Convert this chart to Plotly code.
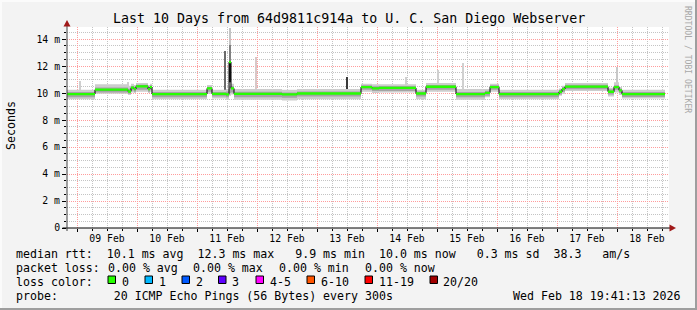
import plotly.graph_objects as go

# ---------------- data ----------------
times = [
    "2026-02-08 20:00", "2026-02-09 07:12", "2026-02-09 20:24", "2026-02-09 21:36",
    "2026-02-09 22:48", "2026-02-09 23:36", "2026-02-10 04:24", "2026-02-10 05:12",
    "2026-02-10 06:00", "2026-02-11 04:00", "2026-02-11 06:00", "2026-02-11 11:36",
    "2026-02-11 12:48", "2026-02-11 13:36", "2026-02-11 14:48", "2026-02-12 10:00",
    "2026-02-12 16:00", "2026-02-13 17:36", "2026-02-13 22:00", "2026-02-14 00:48",
    "2026-02-14 15:36", "2026-02-14 19:36", "2026-02-15 07:36", "2026-02-15 19:12",
    "2026-02-15 21:12", "2026-02-16 00:48", "2026-02-17 00:48", "2026-02-17 02:00",
    "2026-02-17 03:12", "2026-02-17 20:24", "2026-02-17 22:48", "2026-02-18 00:48",
    "2026-02-18 02:00", "2026-02-18 19:12",
]
median_ms = [
    9.93, 10.25, 10.12, 10.40, 10.30, 10.50, 10.30, 10.45,
    9.93, 10.35, 9.95, 9.90, 12.30, 10.35, 9.95, 9.90,
    9.97, 10.45, 10.35, 10.38, 9.97, 10.47, 9.93, 10.02,
    10.45, 9.92, 10.10, 10.30, 10.48, 10.10, 10.45, 10.20,
    9.93, 9.93,
]
smoke_outer_lo = [
    9.55, 9.95, 9.85, 10.05, 10.00, 10.10, 10.00, 10.10,
    9.55, 9.95, 9.60, 9.50, 9.80, 9.90, 9.50, 9.45,
    9.55, 10.10, 10.00, 10.05, 9.55, 10.10, 9.50, 9.70,
    10.10, 9.55, 9.80, 9.95, 10.15, 9.75, 10.05, 9.85,
    9.60, 9.60,
]
smoke_outer_hi = [
    10.25, 10.65, 10.55, 10.70, 10.60, 10.75, 10.60, 10.70,
    10.25, 10.60, 10.25, 10.30, 10.80, 10.70, 10.30, 10.25,
    10.30, 10.70, 10.65, 10.65, 10.25, 10.75, 10.30, 10.30,
    10.70, 10.25, 10.35, 10.55, 10.75, 10.40, 10.80, 10.45,
    10.25, 10.25,
]
smoke_inner_lo = [
    9.70, 10.05, 9.95, 10.20, 10.10, 10.25, 10.10, 10.25,
    9.70, 10.10, 9.75, 9.70, 10.00, 10.05, 9.70, 9.65,
    9.75, 10.25, 10.15, 10.15, 9.75, 10.25, 9.70, 9.80,
    10.25, 9.70, 9.90, 10.10, 10.28, 9.90, 10.25, 10.00,
    9.72, 9.72,
]
smoke_inner_hi = [
    10.08, 10.42, 10.32, 10.52, 10.45, 10.62, 10.45, 10.58,
    10.08, 10.48, 10.08, 10.12, 10.50, 10.52, 10.10, 10.05,
    10.12, 10.58, 10.50, 10.52, 10.12, 10.60, 10.08, 10.18,
    10.58, 10.08, 10.25, 10.45, 10.62, 10.28, 10.58, 10.35,
    10.08, 10.08,
]
spike_times = ["2026-02-09 01:12", "2026-02-09 20:24", "2026-02-11 11:24",
               "2026-02-11 13:12", "2026-02-11 13:12", "2026-02-11 13:12",
               "2026-02-11 23:36", "2026-02-13 12:00", "2026-02-14 11:36",
               "2026-02-15 00:24", "2026-02-15 10:24", "2026-02-18 00:00"]
spike_low = [10.2, 10.3, 10.1, 12.4, 12.4, 10.0, 10.2, 10.0, 10.5, 10.3, 10.1, 10.6]
spike_high = [10.9, 10.8, 13.1, 14.8, 13.6, 12.4, 12.7, 11.2, 11.2, 11.7, 12.2, 11.95]
spike_color = ["#cfcfcf", "#cfcfcf", "#6a6a6a", "#c4c4c4", "#808080", "#1e1e1e",
               "#d8c8c8", "#3a3a3a", "#d0d0d0", "#d0d0d0", "#d0d0d0", "#c8c8c8"]

y_tickvals = [0, 2, 4, 6, 8, 10, 12, 14]
y_ticktext = ["0", "2 m", "4 m", "6 m", "8 m", "10 m", "12 m", "14 m"]

loss_labels = ["0", "1", "2", "3", "4-5", "6-10", "11-19", "20/20"]
loss_colors = ["#26ff00", "#00b8ff", "#0059ff", "#5e00ff", "#ff00ff",
               "#ff5500", "#ff0000", "#a10000"]

title_text = "Last 10 Days from 64d9811c914a to U. C. San Diego Webserver"
row1 = "median rtt:  10.1 ms avg  12.3 ms max   9.9 ms min  10.0 ms now   0.3 ms sd  38.3   am/s"
row2_parts = ["packet loss:", "0.00 % avg", "0.00 % max", "0.00 % min", "0.00 % now"]
row3_head = "loss color:"
row4 = "probe:        20 ICMP Echo Pings (56 Bytes) every 300s"
stamp = "Wed Feb 18 19:41:13 2026"

# ---------------- layout geometry ----------------
W, H = 697, 310
L, R, T, B = 67, 28, 27, 82
PW, PH = W - L - R, H - T - B
MONO = "DejaVu Sans Mono"


def px(x):
    return (x - L) / PW


def py(y):
    return (H - B - y) / PH


fig = go.Figure()

# smoke
fig.add_trace(go.Scatter(x=times, y=smoke_outer_lo, mode="lines",
                         line=dict(width=0, shape="hv"), hoverinfo="skip"))
fig.add_trace(go.Scatter(x=times, y=smoke_outer_hi, mode="lines",
                         line=dict(width=0, shape="hv"), fill="tonexty",
                         fillcolor="#cdcdcd", hoverinfo="skip"))
fig.add_trace(go.Scatter(x=times, y=smoke_inner_lo, mode="lines",
                         line=dict(width=0, shape="hv"), hoverinfo="skip"))
fig.add_trace(go.Scatter(x=times, y=smoke_inner_hi, mode="lines",
                         line=dict(width=0, shape="hv"), fill="tonexty",
                         fillcolor="#a4a4a4", hoverinfo="skip"))
# spikes
fig.add_trace(go.Bar(x=spike_times,
                     y=[h - l for h, l in zip(spike_high, spike_low)],
                     base=spike_low, width=40 * 60 * 1000,
                     marker=dict(color=spike_color, line=dict(width=0)),
                     hoverinfo="skip"))
# median line (black) + loss-colour band
fig.add_trace(go.Scatter(x=times, y=median_ms, mode="lines",
                         line=dict(color="black", width=1, shape="hv")))
band = 0.085
fig.add_trace(go.Scatter(x=times, y=[m - band for m in median_ms], mode="lines",
                         line=dict(width=0, shape="hv"), hoverinfo="skip"))
fig.add_trace(go.Scatter(x=times, y=[m + band for m in median_ms], mode="lines",
                         line=dict(width=0, shape="hv"), fill="tonexty",
                         fillcolor=loss_colors[0], hoverinfo="skip"))

grid_major = "#ff9c9c"
grid_minor = "#c4c4c4"

fig.update_layout(
    width=W, height=H, margin=dict(l=L, r=R, t=T, b=B, pad=0),
    paper_bgcolor="#f3f3f3", plot_bgcolor="#ffffff",
    showlegend=False, barmode="overlay", bargap=0,
    font=dict(family=MONO, color="black"),
    xaxis=dict(
        type="date", range=["2026-02-08 20:00", "2026-02-18 20:48"],
        tick0="2026-02-09", dtick=86400000, tickformat="%d %b",
        ticklabelmode="period", showgrid=True, gridcolor=grid_major,
        griddash="1px,1px", gridwidth=1, zeroline=False, showline=False,
        ticks="outside", ticklen=3, tickcolor="black", ticklabelstandoff=-2,
        tickfont=dict(family=MONO, size=9.8, color="black"),
        minor=dict(dtick=21600000, showgrid=True, gridcolor=grid_minor,
                   griddash="1px,1px", ticks="outside", ticklen=2,
                   tickcolor="black"),
        fixedrange=True,
    ),
    yaxis=dict(
        range=[0, 14.9], tickvals=y_tickvals, ticktext=y_ticktext,
        showgrid=True, gridcolor=grid_major, griddash="1px,1px",
        zeroline=False, showline=False, ticks="outside", ticklen=4,
        tickcolor="black",
        tickfont=dict(family=MONO, size=9.8, color="black"),
        minor=dict(dtick=0.5, showgrid=True, gridcolor=grid_minor,
                   griddash="1px,1px", ticks="outside", ticklen=2,
                   tickcolor="black"),
        fixedrange=True,
    ),
)

shapes = []
# frame
shapes.append(dict(type="rect", xref="paper", yref="paper", x0=px(0), x1=px(697),
                   y0=py(0), y1=py(2), fillcolor="#fbfbfb", line=dict(width=0), layer="below"))
shapes.append(dict(type="rect", xref="paper", yref="paper", x0=px(0), x1=px(2),
                   y0=py(0), y1=py(310), fillcolor="#fbfbfb", line=dict(width=0), layer="below"))
shapes.append(dict(type="rect", xref="paper", yref="paper", x0=px(695), x1=px(697),
                   y0=py(0), y1=py(310), fillcolor="#9e9e9e", line=dict(width=0)))
shapes.append(dict(type="rect", xref="paper", yref="paper", x0=px(0), x1=px(697),
                   y0=py(308), y1=py(310), fillcolor="#9e9e9e", line=dict(width=0)))
# axes
shapes.append(dict(type="line", xref="paper", yref="paper", x0=px(62.5), x1=px(670),
                   y0=0, y1=0, line=dict(color="black", width=1)))
shapes.append(dict(type="line", xref="paper", yref="paper", x0=0, x1=0,
                   y0=py(231), y1=py(24), line=dict(color="#404040", width=1)))
# arrows
shapes.append(dict(type="path", xref="paper", yref="paper",
                   path=f"M {px(63.5)},{py(26.5)} L {px(70.5)},{py(26.5)} L {px(67)},{py(20)} Z",
                   fillcolor="#a01818", line=dict(width=0)))
shapes.append(dict(type="path", xref="paper", yref="paper",
                   path=f"M {px(669.5)},{py(224.5)} L {px(669.5)},{py(231.5)} L {px(676)},{py(228)} Z",
                   fillcolor="#a01818", line=dict(width=0)))

annotations = []
annotations.append(dict(text=title_text, xref="paper", yref="paper", x=px(348.5), y=py(19),
                        xanchor="center", yanchor="middle", showarrow=False,
                        font=dict(family=MONO, size=13.3, color="black")))
annotations.append(dict(text="Seconds", xref="paper", yref="paper", x=px(11), y=py(126),
                        xanchor="center", yanchor="middle", showarrow=False, textangle=-90,
                        font=dict(family=MONO, size=11.6, color="black")))
annotations.append(dict(text="RRDTOOL / TOBI OETIKER", xref="paper", yref="paper",
                        x=px(688), y=py(59), xanchor="center", yanchor="middle",
                        showarrow=False, textangle=90,
                        font=dict(family=MONO, size=8.1, color="#a8a8a8")))

X0 = 15
rows_y = [254, 268, 282, 296]


def add_text(txt, x, y, anchor="left"):
    annotations.append(dict(text=txt.replace(" ", "\u00a0"), xref="paper", yref="paper",
                            x=px(x), y=py(y), xanchor=anchor, yanchor="middle",
                            showarrow=False, borderpad=0,
                            font=dict(family=MONO, size=11.6, color="black")))


add_text(row1, X0, rows_y[0])
for txt, xpos in zip(row2_parts, [X0, 106.5, 192.3, 278.1, 363.9]):
    add_text(txt, xpos, rows_y[1])
add_text(row3_head, X0, rows_y[2])
box_x = [108, 145, 182, 218.5, 256, 307, 365, 430]
for bx, lab, col in zip(box_x, loss_labels, loss_colors):
    shapes.append(dict(type="rect", xref="paper", yref="paper", x0=px(bx), x1=px(bx + 7.5),
                       y0=py(276), y1=py(283.5), fillcolor=col,
                       line=dict(color="black", width=1)))
    add_text(lab, bx + 12.5, rows_y[2])
add_text(row4, X0, rows_y[3])
add_text(stamp, 511.5, rows_y[3])

fig.update_layout(shapes=shapes, annotations=annotations)
fig.write_html("out.html")
